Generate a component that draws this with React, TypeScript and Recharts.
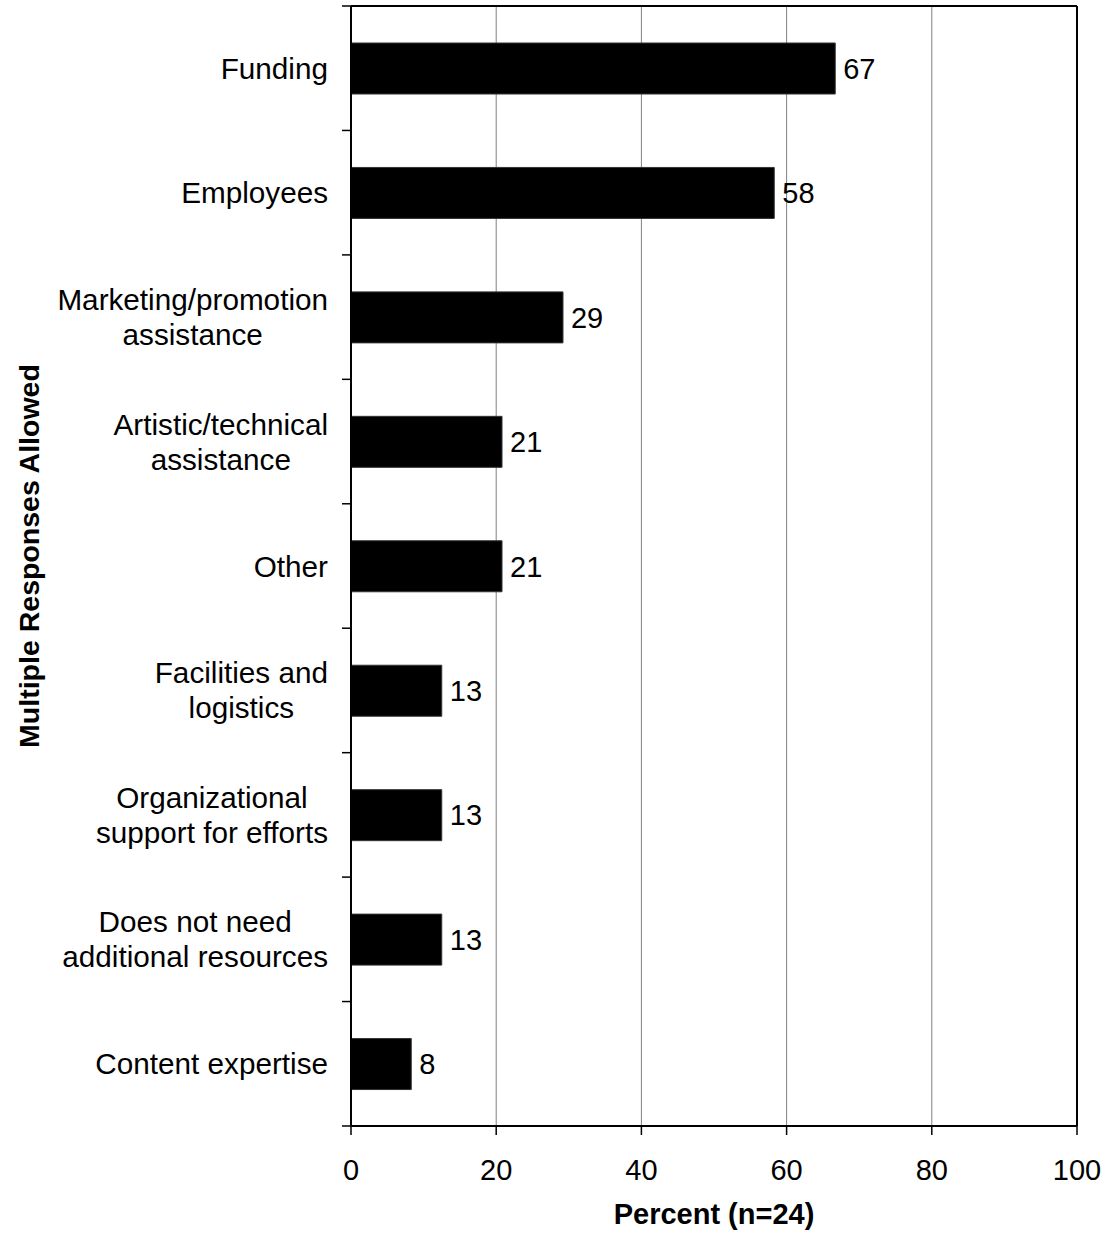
import React from 'react';
import { BarChart, Bar, XAxis, YAxis, CartesianGrid, LabelList } from 'recharts';

const categories: string[] = [
  'Funding',
  'Employees',
  'Marketing/promotion\nassistance',
  'Artistic/technical\nassistance',
  'Other',
  'Facilities and\nlogistics',
  'Organizational\nsupport for efforts',
  'Does not need\nadditional resources',
  'Content expertise',
];
const values: number[] = [66.7, 58.3, 29.2, 20.8, 20.8, 12.5, 12.5, 12.5, 8.3];
const xTicks: number[] = [0, 20, 40, 60, 80, 100];
const xTitle = 'Percent (n=24)';
const yTitle = 'Multiple Responses Allowed';

const data = categories.map((name, i) => ({ name, value: values[i] }));

const FONT = '"Liberation Sans", Arial, Helvetica, sans-serif';
const FS = 29;
const CAT_FS = 29.7;
const LINE_H = 35;

const W = 1107;
const H = 1238;
const MARGIN = { top: 6, right: 30, bottom: 0, left: 0 };
const X_AXIS_H = 112;
const Y_AXIS_W = 351;
const PLOT_H = H - MARGIN.top - MARGIN.bottom - X_AXIS_H;

let ctx: CanvasRenderingContext2D | null = null;
function measure(text: string): number {
  if (!ctx && typeof document !== 'undefined') {
    ctx = document.createElement('canvas').getContext('2d');
  }
  if (!ctx) return text.length * CAT_FS * 0.5;
  ctx.font = `${CAT_FS}px "Liberation Sans", Arial, sans-serif`;
  return ctx.measureText(text).width;
}

const CatTick = (props: any) => {
  const { x, y, payload, index } = props;
  const lines: string[] = String(payload.value).split('\n');
  const half = payload && typeof payload.offset === 'number' && payload.offset > 0
    ? payload.offset
    : PLOT_H / categories.length / 2;
  const axisX = Y_AXIS_W;
  const maxW = Math.max(...lines.map(measure));
  const n = lines.length;
  const startY = y - ((n - 1) * LINE_H) / 2;
  return (
    <g>
      <line x1={axisX - 9} x2={axisX} y1={y - half} y2={y - half} stroke="#000" strokeWidth={1.5} />
      {index === categories.length - 1 && (
        <line x1={axisX - 9} x2={axisX} y1={y + half} y2={y + half} stroke="#000" strokeWidth={1.5} />
      )}
      {n === 1 ? (
        <text x={x} y={y} dy="0.355em" textAnchor="end" fontSize={CAT_FS} fontFamily={FONT} fill="#000">
          {lines[0]}
        </text>
      ) : (
        lines.map((ln, i) => (
          <text
            key={i}
            x={x - maxW / 2}
            y={startY + i * LINE_H}
            dy="0.355em"
            textAnchor="middle"
            fontSize={CAT_FS}
            fontFamily={FONT}
            fill="#000"
          >
            {ln}
          </text>
        ))
      )}
    </g>
  );
};

const XTitle = (props: any) => {
  const vb = props.viewBox || {};
  return (
    <text
      x={vb.x + vb.width / 2}
      y={vb.y + 98}
      textAnchor="middle"
      fontSize={FS}
      fontWeight="bold"
      fontFamily={FONT}
      fill="#000"
    >
      {xTitle}
    </text>
  );
};

const YTitle = (props: any) => {
  const vb = props.viewBox || {};
  const cx = 39;
  const cy = vb.y + vb.height / 2 - 10;
  return (
    <text
      x={cx}
      y={cy}
      textAnchor="middle"
      fontSize={28.5}
      fontWeight="bold"
      fontFamily={FONT}
      fill="#000"
      transform={`rotate(-90, ${cx}, ${cy})`}
    >
      {yTitle}
    </text>
  );
};

export default function App() {
  return (
    <div style={{ position: 'absolute', left: 0, top: 0, width: W, height: H, background: '#fff' }}>
      <BarChart width={W} height={H} data={data} layout="vertical" margin={MARGIN} barCategoryGap={0}>
        <CartesianGrid
          horizontal={false}
          vertical={true}
          stroke="#808080"
          strokeWidth={1}
          xAxisId="main"
          yAxisId="cat"
        />
        <CartesianGrid
          horizontal={true}
          vertical={true}
          stroke="#000"
          strokeWidth={2}
          xAxisId="main"
          yAxisId="cat"
          horizontalCoordinatesGenerator={(p: any) => [p.offset.top]}
          verticalCoordinatesGenerator={(p: any) => [p.offset.left + p.offset.width]}
        />
        <XAxis
          xAxisId="main"
          type="number"
          domain={[0, 100]}
          ticks={xTicks}
          height={X_AXIS_H}
          axisLine={{ stroke: '#000', strokeWidth: 2 }}
          tickLine={{ stroke: '#000', strokeWidth: 1.5 }}
          tickSize={9}
          tickMargin={24}
          tick={{ fontSize: FS, fontFamily: FONT, fill: '#000' }}
          interval={0}
          label={<XTitle />}
        />
        <YAxis
          yAxisId="cat"
          type="category"
          dataKey="name"
          width={Y_AXIS_W}
          axisLine={{ stroke: '#000', strokeWidth: 2 }}
          tickLine={false}
          tickSize={0}
          tickMargin={23}
          interval={0}
          tick={<CatTick />}
          label={<YTitle />}
        />
        <Bar
          dataKey="value"
          xAxisId="main"
          yAxisId="cat"
          fill="#000"
          stroke="#333"
          strokeWidth={1}
          barSize={51}
          isAnimationActive={false}
        >
          <LabelList
            dataKey="value"
            position="right"
            offset={8}
            formatter={(v: any) => Math.round(Number(v))}
            style={{ fontSize: FS, fontFamily: FONT, fill: '#000' }}
          />
        </Bar>
      </BarChart>
    </div>
  );
}
